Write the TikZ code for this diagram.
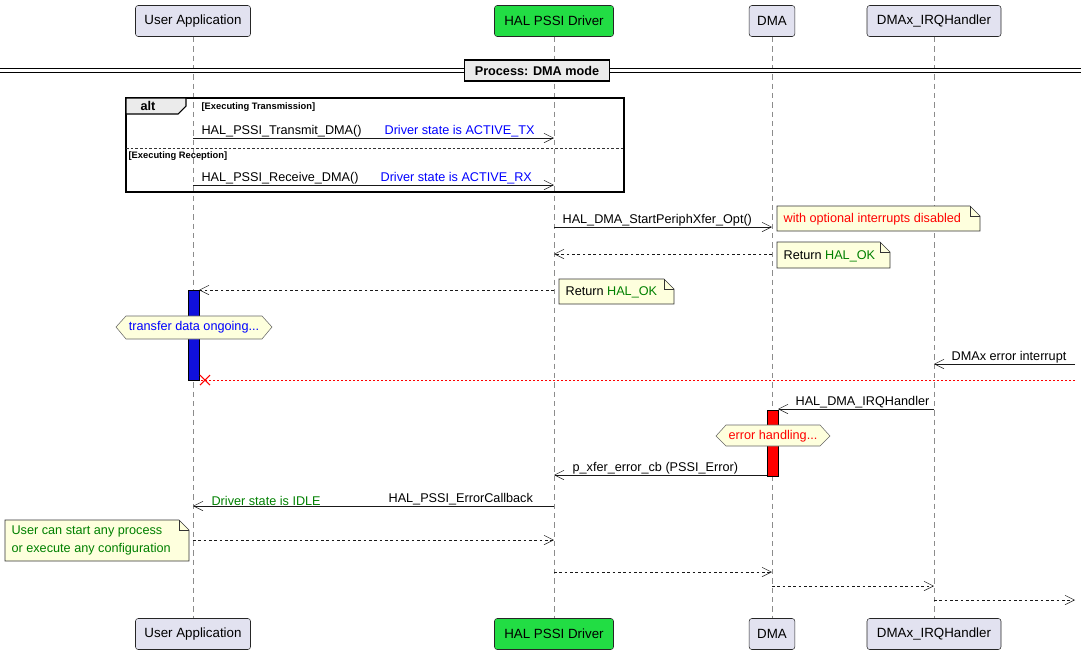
\documentclass[tikz,border=0pt]{standalone}
\usepackage{fontspec}
\setmainfont{Liberation Sans}
\usetikzlibrary{arrows.meta}
\definecolor{partfill}{HTML}{E2E2F0}
\definecolor{halfill}{HTML}{22DD44}
\definecolor{notefill}{HTML}{FEFFDD}
\definecolor{hexfill}{HTML}{FEFFDD}
\definecolor{actblue}{HTML}{1010DD}
\definecolor{txtgreen}{HTML}{008000}
\tikzset{
  part/.style={draw=black!85,fill=partfill,rounded corners=2pt,minimum height=31*0.75pt,inner xsep=6pt,font=\fontsize{10}{12}\selectfont},
  life/.style={draw=black!45,dash pattern=on 4pt off 3pt},
  msg/.style={-{Straight Barb[length=7pt,width=7pt]},draw=black!90},
  ret/.style={msg,dash pattern=on 2pt off 2pt},
  lbl/.style={anchor=south west,inner sep=1pt,font=\fontsize{9.5}{11}\selectfont},
  guard/.style={anchor=west,inner sep=1pt,font=\bfseries\fontsize{7}{8}\selectfont},
  notebox/.style={draw=black!80,fill=notefill,font=\fontsize{9.5}{11}\selectfont},
  act/.style={draw=black,fill=#1}
}
\begin{document}
\begin{tikzpicture}[x=0.75pt,y=-0.75pt]
\useasboundingbox (0,0) rectangle (1081,654);
% lifeline positions
\coordinate (uX) at (193,0);
\coordinate (hX) at (554,0);
\coordinate (dX) at (772,0);
\coordinate (iX) at (934,0);
\foreach \x in {193,554,772,934}
  \draw[life] (\x,37) -- (\x,618);
% participants
\foreach \y/\s in {21/t,634/b}{
  \node[part,minimum width=115*0.75pt] (user\s) at (193,\y) {User Application};
  \node[part,fill=halfill,minimum width=119*0.75pt] (hal\s) at (554,\y) {HAL PSSI Driver};
  \node[part,minimum width=44*0.75pt] (dma\s) at (772,\y) {DMA};
  \node[part,minimum width=134*0.75pt] (irq\s) at (934,\y) {DMAx\_IRQHandler};
}
% separator
\draw[double,double distance=2pt,thick] (0,70.5) -- (1081,70.5);
\node[draw,thick,fill=black!8,minimum width=145*0.75pt,minimum height=21*0.75pt,font=\bfseries\fontsize{9.5}{11}\selectfont] (sep) at (537,70.5) {Process: DMA mode};
% alt frame
\draw[thick] (126,98) rectangle (624,192);
\draw[thick,fill=black!8] (126,98) -- (186,98) -- (186,106) -- (178,114) -- (126,114) -- cycle;
\node[font=\bfseries\fontsize{9.5}{11}\selectfont] (alt) at (148,106) {alt};
\node[guard] (g1) at (200,107) {[Executing Transmission]};
\draw[black!80,dash pattern=on 2pt off 1.5pt] (126,148) -- (624,148);
\node[guard] (g2) at (127,156) {[Executing Reception]};
% messages in alt
\draw[msg] (193,138) -- (554,138);
\node[lbl] (m1) at (200,139) {HAL\_PSSI\_Transmit\_DMA()};
\node[lbl,text=blue] (m1b) at (383,139) {Driver state is ACTIVE\_TX};
\draw[msg] (193,185) -- (554,185);
\node[lbl] (m2) at (200,186) {HAL\_PSSI\_Receive\_DMA()};
\node[lbl,text=blue] (m2b) at (379,186) {Driver state is ACTIVE\_RX};
% start DMA
\draw[msg] (554,227) -- (772,227);
\node[lbl] (m3) at (561,228) {HAL\_DMA\_StartPeriphXfer\_Opt()};
\draw[notebox] (777,206) -- (970,206) -- (980,216) -- (980,231) -- (777,231) -- cycle;
\draw[black!80] (970,206) -- (970,216) -- (980,216);
\node[lbl,anchor=west,text=red] (n1) at (782,219) {with optional interrupts disabled};
\draw[ret] (772,254) -- (554,254);
\draw[notebox] (777,242) -- (880,242) -- (890,252) -- (890,268) -- (777,268) -- cycle;
\draw[black!80] (880,242) -- (880,252) -- (890,252);
\node[lbl,anchor=west] (n2) at (782,256) {Return \textcolor{txtgreen}{HAL\_OK}};
\draw[ret] (554,290) -- (199,290);
\draw[notebox] (559,279) -- (664,279) -- (674,289) -- (674,304) -- (559,304) -- cycle;
\draw[black!80] (664,279) -- (664,289) -- (674,289);
\node[lbl,anchor=west] (n3) at (564,292) {Return \textcolor{txtgreen}{HAL\_OK}};
% user activation
\draw[act=actblue] (188,290) rectangle (199,380);
\draw[black!60,fill=hexfill] (116,327) -- (126,316) -- (262,316) -- (272,327) -- (262,339) -- (126,339) -- cycle;
\node[font=\fontsize{9.5}{11}\selectfont,text=blue] (h1) at (194,327.5) {transfer data ongoing...};
% error interrupt
\coordinate (edgeA) at (1075,364);
\draw[msg] (edgeA) -- (934,364);
\node[lbl] (m4) at (950,365) {DMAx error interrupt};
\coordinate (edgeB) at (1075,380);
\draw[red,dash pattern=on 1.5pt off 1.5pt] (edgeB) -- (199,380);
\draw[red,thick] (200,375) -- (210,385) (200,385) -- (210,375);
% IRQ handler
\draw[msg] (934,409) -- (778,409);
\node[lbl] (m5) at (794,410) {HAL\_DMA\_IRQHandler};
\draw[act=red] (767,410) rectangle (778,476);
\draw[black!60,fill=hexfill] (716,436) -- (726,425) -- (820,425) -- (830,436) -- (820,446) -- (726,446) -- cycle;
\node[font=\fontsize{9.5}{11}\selectfont,text=red] (h2) at (773,436.5) {error handling...};
\draw[msg] (767,475) -- (554,475);
\node[lbl] (m6) at (571,476) {p\_xfer\_error\_cb (PSSI\_Error)};
\draw[msg] (554,506) -- (193,506);
\node[lbl,text=txtgreen] (m7) at (210,507) {Driver state is IDLE};
\node[lbl] (m7b) at (387,507) {HAL\_PSSI\_ErrorCallback};
% final note and returns
\draw[notebox] (5,520) -- (179,520) -- (189,530) -- (189,561) -- (5,561) -- cycle;
\draw[black!80] (179,520) -- (179,530) -- (189,530);
\node[anchor=west,inner sep=1pt,align=left,text=txtgreen,font=\fontsize{9.5}{13}\selectfont] (n4) at (10,540.5) {User can start any process\\or execute any configuration};
\draw[ret] (193,540) -- (554,540);
\draw[ret] (554,572) -- (772,572);
\draw[ret] (772,586) -- (934,586);
\coordinate (edgeC) at (1075,600);
\draw[ret] (934,600) -- (edgeC);
\end{tikzpicture}
\end{document}
